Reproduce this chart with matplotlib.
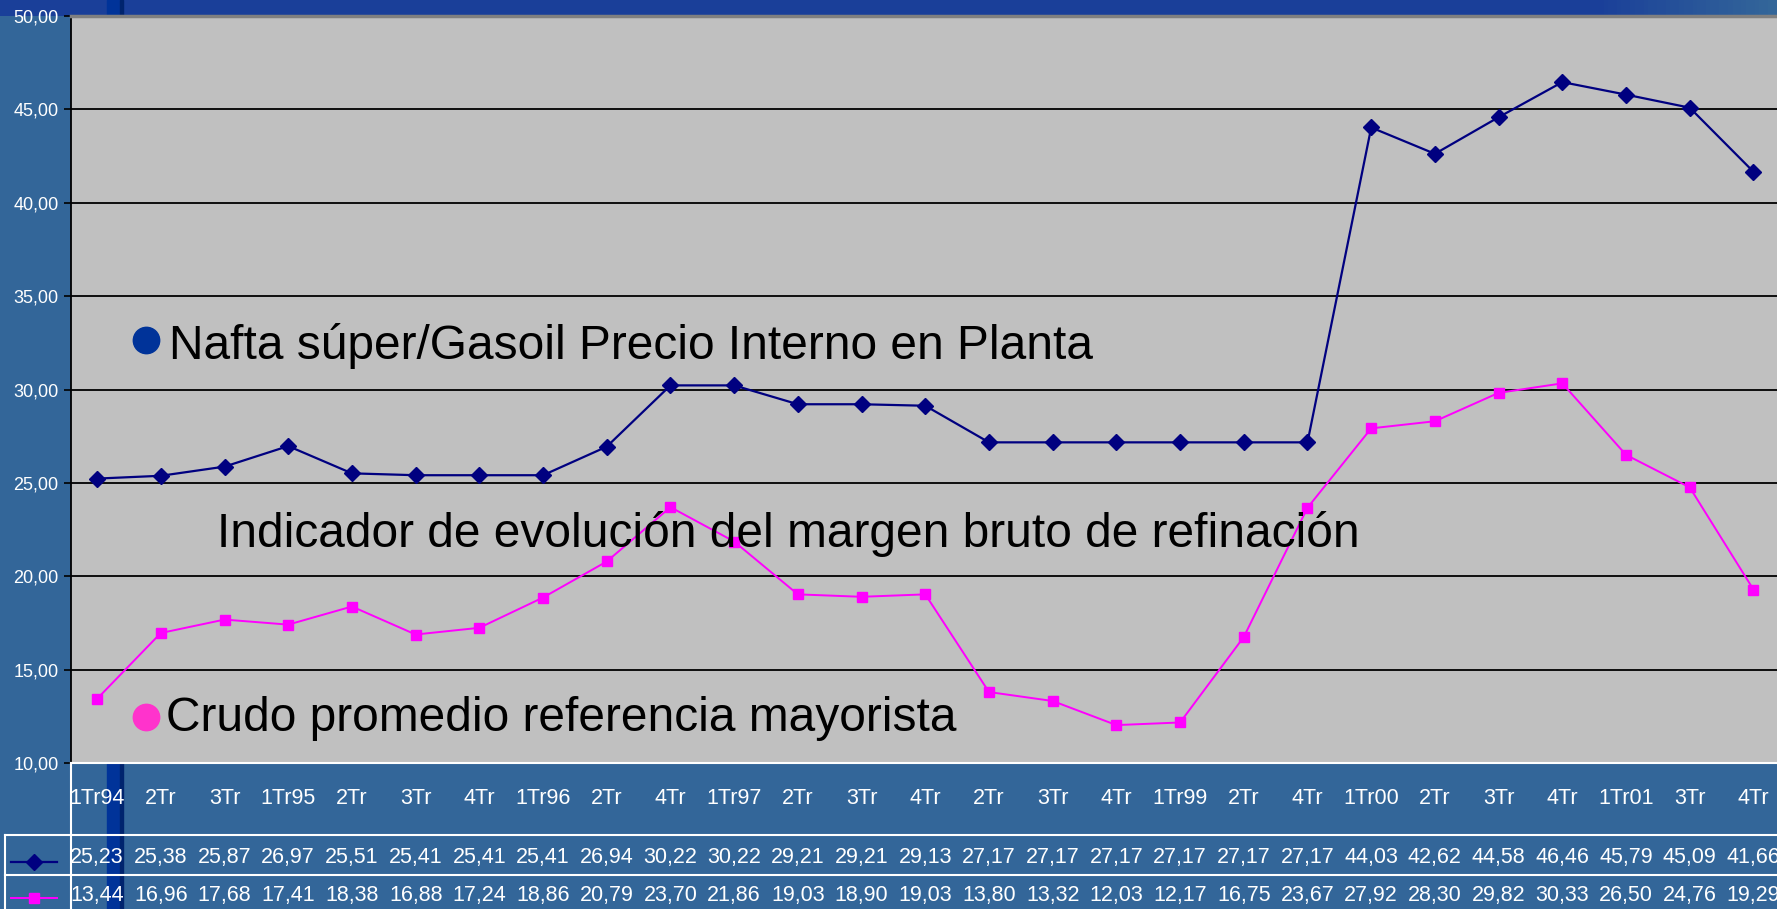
import numpy as np
import matplotlib
matplotlib.use("Agg")
import matplotlib.pyplot as plt
from matplotlib.lines import Line2D
from matplotlib.patches import Rectangle
from matplotlib.colors import LinearSegmentedColormap
from matplotlib.transforms import blended_transform_factory

plt.rcParams['font.family'] = ['Liberation Sans', 'DejaVu Sans']

# ---- data ----
trimestres = ["1Tr94", "2Tr", "3Tr", "1Tr95", "2Tr", "3Tr", "4Tr", "1Tr96", "2Tr",
              "4Tr", "1Tr97", "2Tr", "3Tr", "4Tr", "2Tr", "3Tr", "4Tr", "1Tr99",
              "2Tr", "4Tr", "1Tr00", "2Tr", "3Tr", "4Tr", "1Tr01", "3Tr", "4Tr"]
nafta = [25.23, 25.38, 25.87, 26.97, 25.51, 25.41, 25.41, 25.41, 26.94, 30.22,
         30.22, 29.21, 29.21, 29.13, 27.17, 27.17, 27.17, 27.17, 27.17, 27.17,
         44.03, 42.62, 44.58, 46.46, 45.79, 45.09, 41.66]
crudo = [13.44, 16.96, 17.68, 17.41, 18.38, 16.88, 17.24, 18.86, 20.79, 23.70,
         21.86, 19.03, 18.90, 19.03, 13.80, 13.32, 12.03, 12.17, 16.75, 23.67,
         27.92, 28.30, 29.82, 30.33, 26.50, 24.76, 19.29]
yticks = [10, 15, 20, 25, 30, 35, 40, 45, 50]

lbl_nafta = "Nafta súper/Gasoil Precio Interno en Planta"
lbl_crudo = "Crudo promedio referencia mayorista"
lbl_margen = "Indicador de evolución del margen bruto de refinación"

W, H = 1777, 909
BG = '#336699'
NAVY = '#000080'
MAG = '#ff00ff'


def fx(px):
    return px / W


def fy(py):
    return 1 - py / H


def coma(v):
    return f"{v:.2f}".replace('.', ',')


fig = plt.figure(figsize=(W / 100, H / 100), dpi=100, facecolor=BG)

# top gradient strip
ax_top = fig.add_axes([0, fy(16), 1, 16 / H], zorder=0)
cmap = LinearSegmentedColormap.from_list('strip', [(0, '#1a3f99'), (0.9, '#1a3f99'), (1, '#336699')])
ax_top.imshow(np.linspace(0, 1, 400)[None, :], aspect='auto', cmap=cmap, extent=[0, 1, 0, 1])
ax_top.set_axis_off()

# vertical decoration bar
fig.add_artist(Rectangle((fx(107), 0), fx(14), 1, transform=fig.transFigure,
                         color='#003399', zorder=0.5))
fig.add_artist(Rectangle((fx(120), 0), fx(3), 1, transform=fig.transFigure,
                         color='#00246e', zorder=0.5))

# main plot
ax = fig.add_axes([fx(71), fy(763), 1 - fx(71), 747 / H], zorder=1)
ax.set_facecolor('#c0c0c0')
x = np.arange(len(trimestres))
ax.plot(x, nafta, color=NAVY, lw=1.6, marker='D', ms=8, zorder=3, clip_on=False)
ax.plot(x, crudo, color=MAG, lw=1.4, marker='s', ms=7, zorder=3, clip_on=False)

ax.set_xlim(-0.41, 26.37)
ax.set_ylim(10, 50)
ax.set_yticks(yticks)
ax.set_yticklabels([coma(v) for v in yticks])
ax.set_xticks([])
ax.yaxis.grid(True, color='black', lw=1.3)
ax.set_axisbelow(True)
ax.tick_params(axis='y', direction='out', length=5, width=1.2, color='black',
               labelcolor='white', labelsize=13, pad=4)
ax.spines['right'].set_visible(False)
ax.spines['left'].set_color('black')
ax.spines['left'].set_linewidth(1.3)
ax.spines['top'].set_color('#808080')
ax.spines['top'].set_linewidth(2.5)
ax.spines['bottom'].set_color('white')
ax.spines['bottom'].set_linewidth(1.5)

# data table under the plot
tr = blended_transform_factory(ax.transData, fig.transFigure)
for i, lab in enumerate(trimestres):
    ax.text(i, fy(798), lab, transform=tr, ha='center', va='center',
            color='white', fontsize=15.5, clip_on=False)
    ax.text(i, fy(857), coma(nafta[i]), transform=tr, ha='center', va='center',
            color='white', fontsize=15.5, clip_on=False)
    ax.text(i, fy(896), coma(crudo[i]), transform=tr, ha='center', va='center',
            color='white', fontsize=15.5, clip_on=False)

for yy in (835, 875):
    fig.add_artist(Line2D([fx(5), 1], [fy(yy), fy(yy)], color='white', lw=1.5,
                          transform=fig.transFigure, zorder=2))
fig.add_artist(Line2D([fx(5), fx(5)], [fy(835), 0], color='white', lw=1.5,
                      transform=fig.transFigure, zorder=2))
fig.add_artist(Line2D([fx(71), fx(71)], [fy(763), 0], color='white', lw=1.5,
                      transform=fig.transFigure, zorder=2))

# legend keys inside the table
fig.add_artist(Line2D([fx(11), fx(57)], [fy(862), fy(862)], color=NAVY, lw=1.6,
                      transform=fig.transFigure, zorder=2))
fig.add_artist(Line2D([fx(34)], [fy(862)], color=NAVY, marker='D', ms=8,
                      transform=fig.transFigure, zorder=2))
fig.add_artist(Line2D([fx(11), fx(57)], [fy(898), fy(898)], color=MAG, lw=1.4,
                      transform=fig.transFigure, zorder=2))
fig.add_artist(Line2D([fx(34)], [fy(898)], color=MAG, marker='s', ms=7,
                      transform=fig.transFigure, zorder=2))

# labels in the plot area
fig.add_artist(Line2D([fx(146)], [fy(340)], color='#003399', marker='o', ms=19,
                      lw=0, transform=fig.transFigure, zorder=4))
fig.text(fx(169), fy(359), lbl_nafta, fontsize=34.5, va='baseline', color='black', zorder=4)
fig.text(fx(217), fy(547), lbl_margen, fontsize=34.5, va='baseline', color='black', zorder=4)
fig.add_artist(Line2D([fx(146)], [fy(717)], color='#ff33cc', marker='o', ms=19,
                      lw=0, transform=fig.transFigure, zorder=4))
fig.text(fx(166), fy(731), lbl_crudo, fontsize=34.5, va='baseline', color='black', zorder=4)

fig.savefig('out.png', dpi=100, facecolor=fig.get_facecolor())
